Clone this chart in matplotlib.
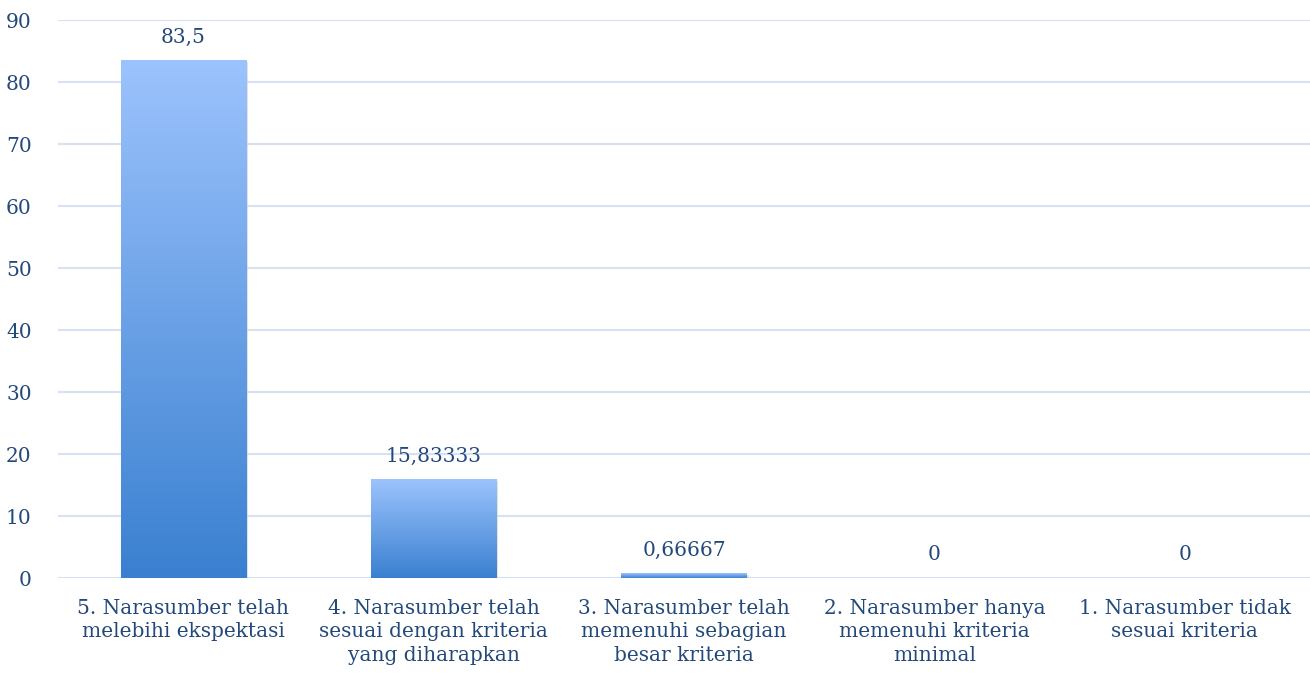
import numpy as np
import matplotlib
matplotlib.use("Agg")
import matplotlib.pyplot as plt
from matplotlib.colors import LinearSegmentedColormap

# ── data ──────────────────────────────────────────────────────────────────────
categories = [
    "5. Narasumber telah\nmelebihi ekspektasi",
    "4. Narasumber telah\nsesuai dengan kriteria\nyang diharapkan",
    "3. Narasumber telah\nmemenuhi sebagian\nbesar kriteria",
    "2. Narasumber hanya\nmemenuhi kriteria\nminimal",
    "1. Narasumber tidak\nsesuai kriteria",
]
values = [83.5, 15.83333, 0.66667, 0, 0]
value_labels = ["83,5", "15,83333", "0,66667", "0", "0"]

# ── style ─────────────────────────────────────────────────────────────────────
TEXT_COLOR = "#23497a"
GRID_COLOR = "#d6e2f3"
FS = 14.5
plt.rcParams["font.family"] = ["DejaVu Serif"]

grad = LinearSegmentedColormap.from_list("bar", ["#3a80d0", "#9cc3fd"])

fig = plt.figure(figsize=(13.1, 6.81), dpi=100)
ax = fig.add_axes([0.0443, 0.1512, 0.9557, 0.8194])

x = np.arange(len(categories))
width = 0.5
ax.set_xlim(-0.5, len(categories) - 0.5)
ax.set_ylim(0, 90)

bars = ax.bar(x, values, width=width, color="none", zorder=3)
for b, v, lab in zip(bars, values, value_labels):
    x0, x1 = b.get_x(), b.get_x() + b.get_width()
    if v > 0:
        # faint shadow
        ax.bar(b.get_x() + b.get_width() / 2 + 0.008, v, width=width,
               bottom=-0.25, color="#cfcfcf", alpha=0.6, zorder=2)
        img = np.linspace(0, 1, 256).reshape(-1, 1)
        ax.imshow(img, cmap=grad, aspect="auto", origin="lower",
                  extent=[x0, x1, 0, max(v, 0.45)], zorder=3)
    ax.text(b.get_x() + b.get_width() / 2, v + 2.2, lab, ha="center",
            va="bottom", fontsize=FS, color=TEXT_COLOR)

ax.set_xticks(x)
ax.set_xticklabels(categories, fontsize=FS, color=TEXT_COLOR)
for lbl in ax.get_xticklabels():
    lbl.set_linespacing(1.3)
    lbl.set_multialignment("center")
ax.set_yticks(range(0, 91, 10))
ax.tick_params(axis="y", labelsize=FS, labelcolor=TEXT_COLOR, length=0, pad=19)
ax.tick_params(axis="x", length=0, pad=15)

ax.grid(axis="y", color=GRID_COLOR, linewidth=1.5, zorder=0)
ax.set_axisbelow(True)
for s in ax.spines.values():
    s.set_visible(False)

fig.savefig("out.png", dpi=100)
